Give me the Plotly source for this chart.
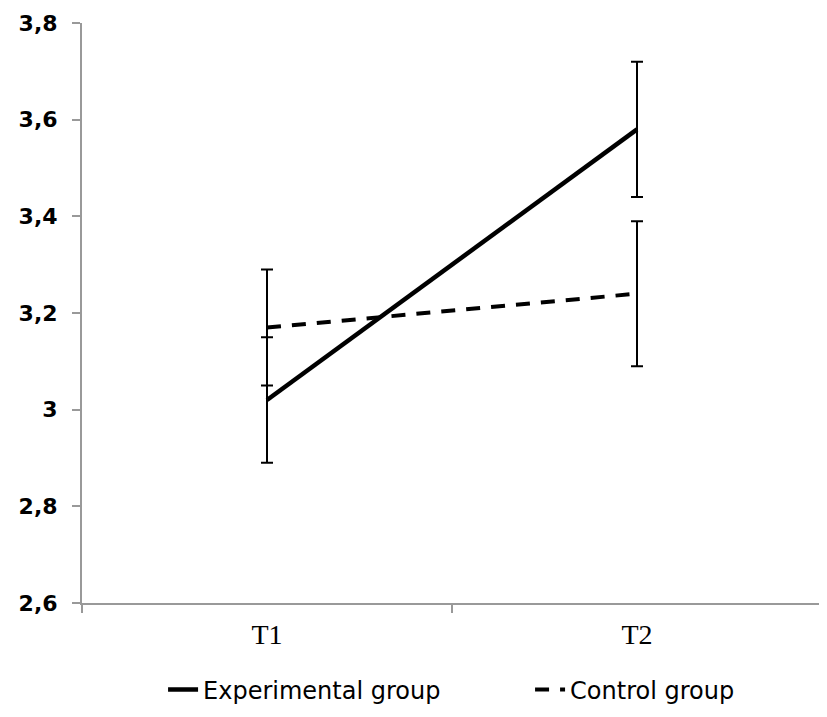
import plotly.graph_objects as go

# Measurement times
times = ["T1", "T2"]

# Group means and error bar half-widths
exp_mean = [3.02, 3.58]
exp_err = [0.13, 0.14]
ctrl_mean = [3.17, 3.24]
ctrl_err = [0.12, 0.15]

# Y-axis ticks (comma decimals as in the source)
y_ticks = [2.6, 2.8, 3.0, 3.2, 3.4, 3.6, 3.8]
y_tick_labels = ["2,6", "2,8", "3", "3,2", "3,4", "3,6", "3,8"]

fig = go.Figure()

fig.add_trace(go.Scatter(
    x=times, y=exp_mean,
    mode="lines",
    name="Experimental group",
    line=dict(color="black", width=4.5),
    error_y=dict(type="data", array=exp_err, visible=True,
                 color="black", thickness=2, width=6),
))

fig.add_trace(go.Scatter(
    x=times, y=ctrl_mean,
    mode="lines",
    name="Control group",
    line=dict(color="black", width=4, dash="14px,11px"),
    error_y=dict(type="data", array=ctrl_err, visible=True,
                 color="black", thickness=2, width=6),
))

# the page body adds an 8px offset, margins are shifted to make up for it
fig.update_layout(
    width=827, height=717,
    plot_bgcolor="white", paper_bgcolor="white",
    margin=dict(l=74, r=13, t=15, b=122),
    showlegend=True,
    legend=dict(
        orientation="h",
        xref="container", yref="container",
        x=0.1875, xanchor="left",
        y=0.049, yanchor="middle",
        entrywidth=322, entrywidthmode="pixels",
        font=dict(family="DejaVu Sans", size=24, color="black"),
    ),
)

fig.update_xaxes(
    type="category",
    range=[-0.5, 1.5],
    automargin=False,
    showline=True, linecolor="#999999", linewidth=2,
    ticks="outside", tickson="boundaries", ticklen=8,
    tickcolor="#999999", tickwidth=1.5,
    ticklabelstandoff=5,
    showgrid=False, zeroline=False,
    tickfont=dict(family="Liberation Serif, Times New Roman", size=28, color="black"),
)

fig.update_yaxes(
    range=[2.6, 3.8],
    automargin=False,
    tickvals=y_ticks, ticktext=y_tick_labels,
    showline=True, linecolor="#999999", linewidth=2,
    ticks="outside", ticklen=8, tickcolor="#999999", tickwidth=1.5,
    ticklabelstandoff=10,
    showgrid=False, zeroline=False,
    tickfont=dict(family="DejaVu Sans", size=22, color="black", weight="bold"),
)

fig.write_html("out.html")
